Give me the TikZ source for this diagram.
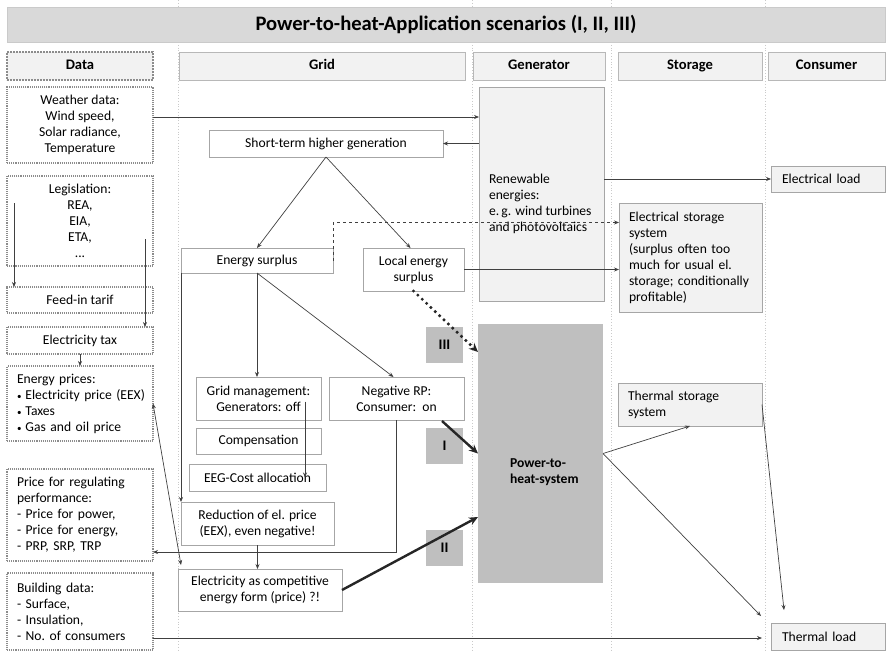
\documentclass[tikz,border=0pt]{standalone}
\usepackage{fontspec}
\setmainfont{Carlito}
\usepackage{tikz}
\usetikzlibrary{arrows.meta,calc,positioning}
\definecolor{pth-line}{HTML}{404040}
\definecolor{pth-head}{HTML}{F2F2F2}
\definecolor{pth-title}{HTML}{D9D9D9}
\definecolor{pth-dark}{HTML}{BFBFBF}
\definecolor{pth-border}{HTML}{A6A6A6}
\definecolor{pth-dots}{HTML}{8C8C8C}

\begin{document}
\begin{tikzpicture}[x=1pt,y=-1pt,>={Stealth[length=5pt,width=4pt]},
  every node/.style={inner sep=0pt,outer sep=0pt,font=\fontsize{13.6}{16}\selectfont},
  lane/.style={draw=pth-border!60,dotted,line width=0.8pt},
  headbox/.style={draw=pth-border!80,fill=pth-head,minimum height=28pt,text height=10pt,text depth=3pt,font=\fontsize{14.6}{16}\selectfont\bfseries},
  databox/.style={draw=pth-dots,fill=white,densely dotted,line width=1.1pt,minimum width=146pt,align=center},
  gridbox/.style={draw=pth-border,fill=white,line width=0.8pt,align=center},
  lightbox/.style={draw=pth-border,fill=pth-head,line width=0.8pt,align=left},
  numbox/.style={fill=pth-dark,minimum width=37pt,minimum height=36pt,font=\fontsize{14.6}{16}\selectfont\bfseries},
  arr/.style={->,draw=pth-line,line width=0.7pt},
  bigarr/.style={-{Stealth[length=9pt,width=8pt]},draw=black!85,line width=2.4pt}]
  \useasboundingbox (0,0) rectangle (890,651);

  % Spalten
  \foreach \lx in {178.5,472,611.5,765}
    \draw[lane] (\lx,0) -- (\lx,651);

  % Titel und Kopfzeile
  \node[fill=pth-title,draw=pth-border!60,minimum width=878pt,minimum height=35pt,font=\fontsize{20.6}{22}\selectfont\bfseries] (title) at (446,24.5) {Power-to-heat-Application scenarios (I, II, III)};
  \node[headbox,minimum width=146pt,draw=pth-dots,densely dotted,line width=2pt] (hdata) at (80,66) {Data};
  \node[headbox,minimum width=286pt] (hgrid) at (322,66) {Grid};
  \node[headbox,minimum width=132pt] (hgen) at (539,66) {Generator};
  \node[headbox,minimum width=144pt] (hsto) at (690,66) {Storage};
  \node[headbox,minimum width=117pt] (hcon) at (826.5,66) {Consumer};

  % Daten
  \node[databox,minimum height=76pt] (weather) at (80,125) {Weather data:\\Wind speed,\\Solar radiance,\\Temperature};
  \node[databox,minimum height=90pt] (legis) at (80,221) {Legislation:\\REA,\\EIA,\\ETA,\\...};
  \node[databox,minimum height=26pt] (feedin) at (80,300) {Feed-in tarif};
  \node[databox,minimum height=27pt] (eltax) at (80,340.5) {Electricity tax};
  \node[databox,minimum height=75pt,align=left,text width=126pt] (eprices) at (80,403.5) {Energy prices:\\\mbox{{\small•}\hspace{4pt}Electricity price (EEX)}\\\mbox{{\small•}\hspace{4pt}Taxes}\\\mbox{{\small•}\hspace{4pt}Gas and oil price}};
  \node[databox,minimum height=92pt,align=left,text width=126pt] (regperf) at (80,515) {Price for regulating\\performance:\\- Price for power,\\- Price for energy,\\- PRP, SRP, TRP};
  \node[databox,minimum height=77pt,align=left,text width=126pt] (building) at (80,611.5) {Building data:\\- Surface,\\- Insulation,\\- No.\ of consumers};

  % Erzeuger
  \node[lightbox,minimum width=125pt,minimum height=214pt] (renew) at (541.5,194) {};
  \node[align=left,anchor=west] (renewtxt) at (489,204) {Renewable\\energies:\\e.\,g. wind turbines\\and photovoltaics};
  \node[fill=pth-dark,minimum width=125pt,minimum height=259pt] (pth) at (540.5,453.5) {};
  \node[align=left,anchor=west,font=\fontsize{13.6}{16}\selectfont\bfseries] (pthtxt) at (510,472.5) {Power-to-\\heat-system};

  % Netz
  \node[gridbox,minimum width=234pt,minimum height=27pt] (shortterm) at (326,143.5) {Short-term higher generation};
  \node[gridbox,minimum width=152pt,minimum height=25pt] (esurplus) at (257,260.5) {Energy surplus};
  \node[gridbox,minimum width=101pt,minimum height=43pt] (local) at (413.5,269.5) {Local energy\\surplus};
  \node[gridbox,minimum width=125pt,minimum height=43pt] (gridmgmt) at (258.5,398.5) {Grid management:\\Generators: off};
  \node[gridbox,minimum width=135pt,minimum height=43pt] (negrp) at (396.5,398.5) {Negative RP:\\Consumer:\ \ on};
  \node[gridbox,minimum width=125pt,minimum height=26pt] (compens) at (258.5,441) {Compensation};
  \node[gridbox,minimum width=137pt,minimum height=27pt] (eeg) at (257.5,477.5) {EEG-Cost allocation};
  \node[gridbox,minimum width=153pt,minimum height=43pt] (reduction) at (257.5,523.5) {Reduction of el. price\\(EEX), even negative!};
  \node[gridbox,minimum width=164pt,minimum height=42pt] (competitive) at (260,590) {Electricity as competitive\\energy form (price) ?!};

  % Szenarien
  \node[numbox] (nIII) at (444.5,344.5) {III};
  \node[numbox] (nI) at (444.5,446) {I};
  \node[numbox] (nII) at (444.5,548) {II};

  % Speicher und Verbraucher
  \node[lightbox,minimum width=143pt,minimum height=109pt,text width=123pt] (elstorage) at (690.5,257.5) {Electrical storage\\system\\(surplus often too\\much for usual el.\\storage; conditionally\\profitable)};
  \node[lightbox,minimum width=144pt,minimum height=43pt,text width=124pt] (thstorage) at (690,404.5) {Thermal storage\\system};
  \node[lightbox,minimum width=114pt,minimum height=26pt,text width=92pt] (elload) at (828,179) {Electrical load};
  \node[lightbox,minimum width=114pt,minimum height=27pt,text width=92pt] (thload) at (828,636.5) {Thermal load};

  % Hilfspunkte
  \coordinate (wx) at ($(weather.east)+(0,-8)$);
  \coordinate (lg1) at ($(legis.south west)+(7,-63)$);
  \coordinate (lg2) at ($(legis.south east)+(-8,-27)$);
  \coordinate (dsh) at ($(esurplus.east)+(0,-38)$);
  \coordinate (gm) at ($(gridmgmt.center)+(46.5,3)$);
  \coordinate (rp) at ($(regperf.east)+(0,37)$);
  \coordinate (bd) at ($(building.east)+(0,26.5)$);
  \coordinate (tl) at ([xshift=-9pt]thload.west);

  % Pfeile Daten
  \draw[arr] (wx) -- (wx -| renew.west);
  \draw[arr] (lg1) -- (lg1 |- feedin.north);
  \draw[arr] (lg2) -- (lg2 |- eltax.north);
  \draw[arr] (eltax.south) -- (eprices.north);
  \draw[arr,<->] (eprices.east) -- ([xshift=3pt,yshift=4pt]competitive.north west);
  \draw[arr] (bd) -- (bd -| tl);

  % Pfeile Netz
  \draw[arr] (renew.west |- shortterm.east) -- (shortterm.east);
  \draw[arr] (shortterm.south) -- (esurplus.north);
  \draw[arr] (shortterm.south) -- ([xshift=-3pt]local.north);
  \draw[arr,dashed] (esurplus.east) -- (dsh) -- (dsh -| elstorage.west);
  \draw[arr] (local.east) -- (local.east -| elstorage.west);
  \draw[arr] (esurplus.south) -- (esurplus.south |- gridmgmt.north);
  \draw[arr] (esurplus.south) -- ([xshift=-3pt]negrp.north);
  \draw[arr] (gm) -- (gm |- eeg.center);
  \draw[arr] (esurplus.south west) -- (esurplus.south west |- reduction.north);
  \draw[arr] (reduction.south) -- (reduction.south |- competitive.north);
  \draw[arr] (negrp.south) |- (rp);

  % Pfeile Erzeuger, Speicher, Verbraucher
  \draw[arr] (renew.east |- elload.west) -- (elload.west);
  \draw[arr] (pth.east) -- (thstorage.south);
  \draw[arr] (pth.east) -- ([shift={(-10,-7)}]thload.north west);
  \draw[arr] (thstorage.east) -- ([shift={(13,-13)}]thload.north west);

  % Szenario-Pfeile
  \draw[bigarr,line width=3.4pt,dash pattern=on 0pt off 6pt,line cap=round] (local.south) -- ([shift={(0,28)}]pth.north west);
  \draw[bigarr] ([shift={(-22,1)}]negrp.south east) -- (pth.west);
  \draw[bigarr] (competitive.east) -- ([shift={(0,-66)}]pth.south west);
\end{tikzpicture}
\end{document}
